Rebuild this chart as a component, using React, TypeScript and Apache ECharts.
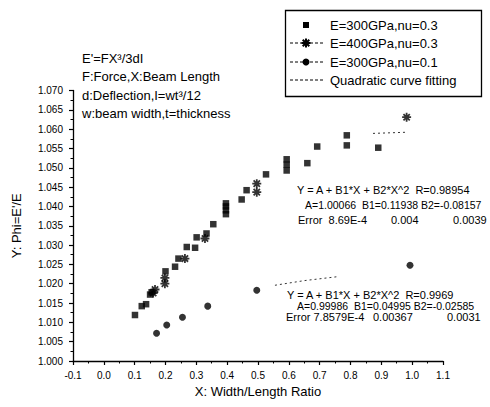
import React, { useEffect, useRef } from "react";
import * as echarts from "echarts";

// ---- data ----
const sqX = [0.101, 0.123, 0.137, 0.150, 0.155, 0.200, 0.231, 0.242, 0.269, 0.296, 0.301, 0.333, 0.355, 0.396, 0.396, 0.396, 0.396, 0.447, 0.463, 0.526, 0.593, 0.593, 0.593, 0.660, 0.692, 0.788, 0.788, 0.890];
const sqY = [1.0119, 1.0142, 1.0147, 1.0172, 1.0178, 1.0232, 1.0244, 1.0265, 1.0295, 1.0293, 1.0320, 1.0330, 1.0354, 1.0380, 1.0390, 1.0400, 1.0408, 1.0418, 1.0442, 1.0483, 1.0493, 1.0508, 1.0522, 1.0512, 1.0555, 1.0584, 1.0558, 1.0552];

const astX = [0.160, 0.166, 0.198, 0.198, 0.263, 0.328, 0.496, 0.496, 0.982];
const astY = [1.0176, 1.0185, 1.0200, 1.0215, 1.0265, 1.0317, 1.0437, 1.0459, 1.0631];

const circX = [0.171, 0.204, 0.255, 0.337, 0.496, 0.993];
const circY = [1.0072, 1.0093, 1.0113, 1.0142, 1.0183, 1.0248];

const fitUpX = [0.873, 0.983];
const fitUpY = [1.0589, 1.0592];
const fitLoX = [0.555, 0.65, 0.756];
const fitLoY = [1.0196, 1.0208, 1.0218];

const legendNames = ["E=300GPa,nu=0.3", "E=400GPa,nu=0.3", "E=300GPa,nu=0.1", "Quadratic curve fitting"];
const noteLines = ["E'=FX³/3dI", "F:Force,X:Beam Length", "d:Deflection,I=wt³/12", "w:beam width,t=thickness"];
const fitUpText = ["Y = A + B1*X + B2*X^2  R=0.98954", "A=1.00066  B1=0.11938 B2=-0.08157"];
const fitUpErr = ["Error  8.69E-4", "0.004", "0.0039"];
const fitLoText = ["Y = A + B1*X + B2*X^2  R=0.9969", "A=0.99986  B1=0.04995 B2=-0.02585"];
const fitLoErr = ["Error 7.8579E-4", "0.00367", "0.0031"];

const xMin = -0.1, xMax = 1.1, xStep = 0.1;
const yMin = 1.0, yMax = 1.07, yStep = 0.005;

const FONT = '"Liberation Sans", Arial, sans-serif';
const ASTERISK =
  "path://M-1,-5 L1,-5 L1,5 L-1,5 Z M-5,-1 L5,-1 L5,1 L-5,1 Z M-4.2,-2.8 L-2.8,-4.2 L4.2,2.8 L2.8,4.2 Z M2.8,-4.2 L4.2,-2.8 L-2.8,4.2 L-4.2,2.8 Z";

const zip = (xs: number[], ys: number[]) => xs.map((x, i) => [x, ys[i]]);

const txt = (text: string, x: number, y: number, size: number, align = "left") => ({
  type: "text",
  x,
  y,
  silent: true,
  style: { text, fontSize: size, fontFamily: FONT, fill: "#000", align, verticalAlign: "middle" },
});

export default function App() {
  const ref = useRef<HTMLDivElement>(null);
  useEffect(() => {
    if (!ref.current) return;
    const chart = echarts.init(ref.current, null, { renderer: "svg" });

    const legendRows = [25, 43, 62, 80];
    const symX = 306;
    const textX = 330;
    const astLines = (cx: number, cy: number) => {
      const r = 4.5;
      const d = 3.3;
      return [
        [cx - r, cy, cx + r, cy],
        [cx, cy - r, cx, cy + r],
        [cx - d, cy - d, cx + d, cy + d],
        [cx - d, cy + d, cx + d, cy - d],
      ].map((s) => ({
        type: "line",
        silent: true,
        shape: { x1: s[0], y1: s[1], x2: s[2], y2: s[3] },
        style: { stroke: "#000", lineWidth: 2 },
      }));
    };
    const dashLine = (y: number) => ({
      type: "line",
      silent: true,
      shape: { x1: 290, y1: y, x2: 325, y2: y },
      style: { stroke: "#000", lineWidth: 1, lineDash: [3, 2] },
    });

    const graphic: any[] = [
      {
        type: "rect",
        silent: true,
        shape: { x: 285.5, y: 10.5, width: 196, height: 86 },
        style: { fill: "#fff", stroke: "#000", lineWidth: 1.3 },
      },
      { type: "rect", silent: true, shape: { x: symX - 3, y: legendRows[0] - 3, width: 6, height: 6 }, style: { fill: "#000" } },
      dashLine(legendRows[1]),
      ...astLines(symX, legendRows[1]),
      dashLine(legendRows[2]),
      { type: "circle", silent: true, shape: { cx: symX, cy: legendRows[2], r: 3.5 }, style: { fill: "#000" } },
      dashLine(legendRows[3]),
      ...legendNames.map((n, i) => txt(n, textX, legendRows[i], 13)),
      ...noteLines.map((n, i) => txt(n, 82, [58, 76, 95, 113][i], 13)),
      txt(fitUpText[0], 297, 190, 11),
      txt(fitUpText[1], 305, 205, 10.5),
      txt(fitUpErr[0], 298, 220, 11),
      txt(fitUpErr[1], 391, 220, 11),
      txt(fitUpErr[2], 453, 220, 11),
      txt(fitLoText[0], 287, 295, 11),
      txt(fitLoText[1], 297, 306, 10.5),
      txt(fitLoErr[0], 286, 317, 11),
      txt(fitLoErr[1], 373, 317, 11),
      txt(fitLoErr[2], 447, 317, 11),
    ];

    const axisCommon = {
      type: "value",
      axisLine: { show: true, onZero: false, lineStyle: { color: "#000", width: 1.3 } },
      axisTick: { show: true, inside: false, length: 4, lineStyle: { color: "#000", width: 1.2 } },
      minorTick: { show: true, splitNumber: 2, length: 2.5, lineStyle: { color: "#000", width: 1 } },
      splitLine: { show: false },
      nameLocation: "middle",
      nameTextStyle: { fontSize: 13, fontFamily: FONT, color: "#000" },
    };

    chart.setOption({
      animation: false,
      backgroundColor: "#fff",
      grid: { left: 73, right: 47, top: 90.5, bottom: 46, containLabel: false },
      xAxis: {
        ...axisCommon,
        min: xMin,
        max: xMax,
        interval: xStep,
        name: "X: Width/Length Ratio",
        nameGap: 24,
        axisLabel: {
          fontSize: 10,
          fontFamily: FONT,
          color: "#000",
          margin: 9,
          formatter: (v: number) => v.toFixed(1),
        },
      },
      yAxis: {
        ...axisCommon,
        min: yMin,
        max: yMax,
        interval: yStep,
        name: "Y: Phi=E'/E",
        nameGap: 50,
        axisLabel: {
          fontSize: 10,
          fontFamily: FONT,
          color: "#000",
          margin: 10,
          formatter: (v: number) => v.toFixed(3),
        },
      },
      series: [
        {
          type: "scatter",
          name: legendNames[0],
          data: zip(sqX, sqY),
          symbol: "rect",
          symbolSize: 6.5,
          itemStyle: { color: "#000" },
        },
        {
          type: "scatter",
          name: legendNames[1],
          data: zip(astX, astY),
          symbol: ASTERISK,
          symbolSize: 9,
          itemStyle: { color: "#000" },
        },
        {
          type: "scatter",
          name: legendNames[2],
          data: zip(circX, circY),
          symbol: "circle",
          symbolSize: 7,
          itemStyle: { color: "#000" },
        },
        {
          type: "line",
          name: legendNames[3],
          data: zip(fitUpX, fitUpY),
          showSymbol: false,
          symbol: "none",
          lineStyle: { color: "#333", width: 1, type: [2, 3] },
        },
        {
          type: "line",
          name: legendNames[3] + " 2",
          data: zip(fitLoX, fitLoY),
          showSymbol: false,
          symbol: "none",
          lineStyle: { color: "#333", width: 1, type: [2, 3] },
        },
      ],
      graphic,
    });
    return () => chart.dispose();
  }, []);
  return <div ref={ref} style={{ width: 490, height: 407, position: "absolute", left: 0, top: 0 }} />;
}
